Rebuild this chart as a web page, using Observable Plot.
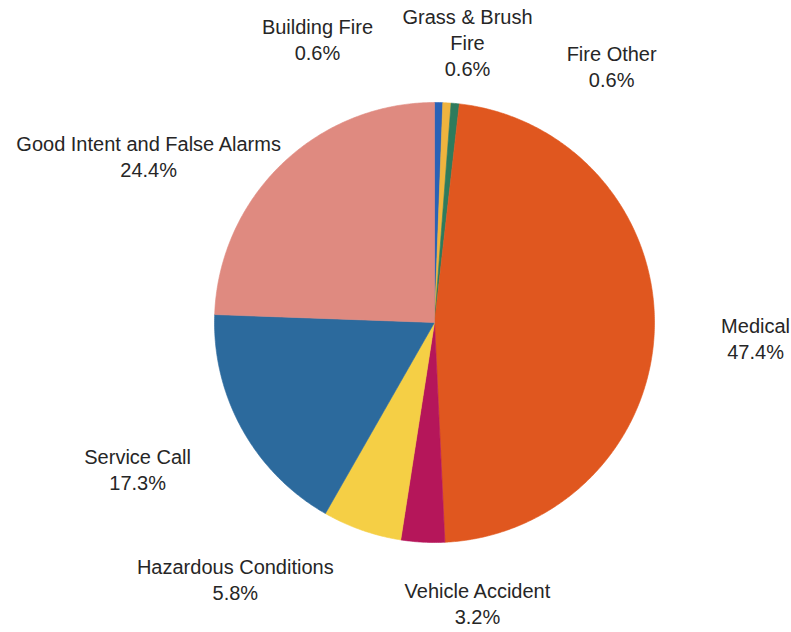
<!DOCTYPE html>
<html>
<head>
<meta charset="utf-8">
<script src="https://cdn.jsdelivr.net/npm/d3@7"></script>
<script src="https://cdn.jsdelivr.net/npm/@observablehq/plot@0.6"></script>
<style>
  html, body { margin: 0; padding: 0; background: #ffffff; }
  #chart svg { display: block; }
</style>
</head>
<body>
<div id="chart"></div>
<script>
// ---- data ----
const categories = ["Building Fire", "Grass & Brush Fire", "Fire Other", "Medical",
  "Vehicle Accident", "Hazardous Conditions", "Service Call", "Good Intent and False Alarms"];
const percents = [0.6, 0.6, 0.6, 47.4, 3.2, 5.8, 17.3, 24.4];
const labelNames = ["Building Fire", "Grass & Brush\nFire", "Fire Other", "Medical",
  "Vehicle Accident", "Hazardous Conditions", "Service Call", "Good Intent and False Alarms"];
const colors = ["#2a62b6", "#efb43e", "#2e7b5c", "#e0571f", "#b5165a", "#f5cf45", "#2c6a9d", "#df8a80"];

// ---- layout (label placement: angle in degrees clockwise from top, radius in pie radii) ----
const labelAngle = [337.6, 6.7, 34.6, 92.7, 171.3, 217.9, 243.8, 300.3];
const labelRadius = [1.396, 1.286, 1.418, 1.461, 1.29, 1.474, 1.504, 1.505];

const W = 791, H = 632, cx = 434, cy = 322, R = 220;

const pie = d3.pie().sort(null).value(d => d.p)(categories.map((c, i) => ({c, p: percents[i]})));
const wedgePts = [];
pie.forEach(s => {
  const cat = s.data.c;
  wedgePts.push({cat, x: 0, y: 0});
  const n = Math.max(4, Math.ceil((s.endAngle - s.startAngle) / (Math.PI / 360)));
  for (let k = 0; k <= n; k++) {
    const a = s.startAngle + (s.endAngle - s.startAngle) * k / n;
    wedgePts.push({cat, x: Math.sin(a), y: Math.cos(a)});
  }
  wedgePts.push({cat, x: 0, y: 0});
});

const labels = categories.map((c, i) => {
  const a = labelAngle[i] * Math.PI / 180;
  return {cat: c, text: labelNames[i] + "\n" + percents[i].toFixed(1) + "%",
          x: labelRadius[i] * Math.sin(a), y: labelRadius[i] * Math.cos(a)};
});

const chart = Plot.plot({
  width: W, height: H,
  margin: 0,
  style: {background: "#ffffff", fontFamily: "'Liberation Sans', Arial, sans-serif"},
  x: {domain: [-cx / R, (W - cx) / R], range: [0, W], axis: null},
  y: {domain: [(cy - H) / R, cy / R], range: [H, 0], axis: null},
  color: {domain: categories, range: colors},
  marks: [
    Plot.line(wedgePts, {x: "x", y: "y", z: "cat", fill: "cat", stroke: "cat", strokeWidth: 0.6, curve: "linear"}),
    Plot.text(labels, {x: "x", y: "y", text: "text", fontSize: 20, lineHeight: 1.3, fill: "#262626", textAnchor: "middle"})
  ]
});
document.getElementById("chart").appendChild(chart);
</script>
</body>
</html>
